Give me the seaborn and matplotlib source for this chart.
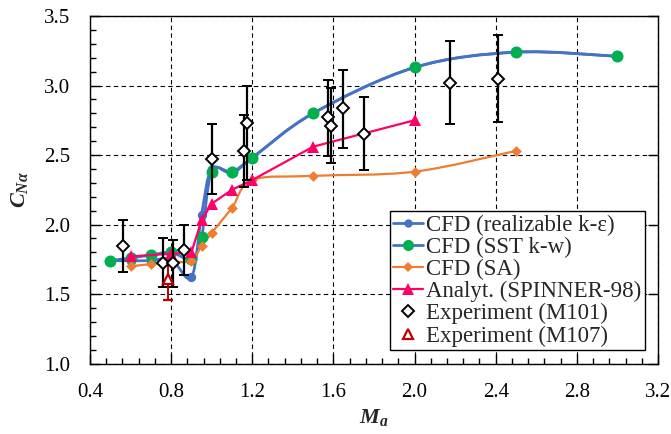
import numpy as np
import seaborn as sns
import matplotlib
matplotlib.use("Agg")
import matplotlib.pyplot as plt
from matplotlib.path import Path
from matplotlib.patches import PathPatch
from matplotlib.lines import Line2D
from matplotlib.ticker import MultipleLocator

# CFD (realizable k-e)
m_ke = [0.5, 0.6, 0.7, 0.8, 0.9, 0.95, 1.0, 1.1, 1.2, 1.5, 2.0, 2.5, 3.0]
cn_ke = [1.74, 1.74, 1.74, 1.75, 1.62, 2.07, 2.40, 2.37, 2.48, 2.80, 3.13, 3.24, 3.21]

# CFD (SST k-w)
m_sst = [0.5, 0.6, 0.7, 0.8, 0.9, 0.95, 1.0, 1.1, 1.2, 1.5, 2.0, 2.5, 3.0]
cn_sst = [1.74, 1.76, 1.78, 1.80, 1.75, 1.91, 2.38, 2.38, 2.48, 2.80, 3.13, 3.24, 3.21]

# CFD (SA)
m_sa = [0.6, 0.7, 0.8, 0.9, 0.95, 1.0, 1.1, 1.2, 1.5, 2.0, 2.5]
cn_sa = [1.70, 1.715, 1.73, 1.74, 1.845, 1.94, 2.12, 2.32, 2.35, 2.38, 2.53]

# Analyt. (SPINNER-98)
m_an = [0.6, 0.8, 0.9, 0.95, 1.0, 1.1, 1.2, 1.5, 2.0]
cn_an = [1.77, 1.79, 1.80, 2.03, 2.15, 2.25, 2.32, 2.56, 2.75]

# Experiment (M101)
m_101 = [0.565, 0.76, 0.81, 0.865, 1.0, 1.16, 1.175, 1.575, 1.59, 1.645, 1.75, 2.175, 2.41]
cn_101 = [1.845, 1.72, 1.72, 1.82, 2.47, 2.53, 2.73, 2.77, 2.71, 2.835, 2.65, 3.02, 3.045]
lo_101 = [1.66, 1.55, 1.55, 1.64, 2.22, 2.27, 2.32, 2.49, 2.44, 2.55, 2.39, 2.72, 2.74]
hi_101 = [2.03, 1.90, 1.89, 2.00, 2.72, 2.79, 3.00, 3.04, 2.98, 3.11, 2.92, 3.32, 3.36]

# Experiment (M107)
m_107 = [0.785]
cn_107 = [1.61]
lo_107 = [1.46]
hi_107 = [1.74]

blue = "#4472C4"
green = "#00B050"
orange = "#ED7D31"
pink = "#FF0066"
red = "#C00000"

sns.set_theme(style="ticks")
plt.rcParams["font.family"] = ["Liberation Serif", "DejaVu Serif"]
plt.rcParams["mathtext.fontset"] = "custom"
plt.rcParams["mathtext.it"] = "Liberation Serif:italic:bold"
plt.rcParams["mathtext.rm"] = "Liberation Serif:bold"


def smooth_path(x, y):
    # excel-like smoothed line (catmull-rom as cubic bezier)
    pts = np.column_stack([x, y]).astype(float)
    n = len(pts)
    verts = [pts[0]]
    codes = [Path.MOVETO]
    for i in range(n - 1):
        p0 = pts[i - 1] if i > 0 else pts[i]
        p1 = pts[i]
        p2 = pts[i + 1]
        p3 = pts[i + 2] if i + 2 < n else pts[i + 1]
        verts += [p1 + (p2 - p0) / 6, p2 - (p3 - p1) / 6, p2]
        codes += [Path.CURVE4] * 3
    return Path(verts, codes)


fig = plt.figure(figsize=(6.71, 4.34), dpi=100)
ax = fig.add_axes([0.1341, 0.1624, 0.8465, 0.8007])

# smoothed lines
ax.add_patch(PathPatch(smooth_path(m_ke, cn_ke), fill=False, ec=blue, lw=2.0, zorder=2))
ax.add_patch(PathPatch(smooth_path(m_sst, cn_sst), fill=False, ec=blue, lw=2.0, zorder=2))
ax.add_patch(PathPatch(smooth_path(m_sa, cn_sa), fill=False, ec=orange, lw=1.6, zorder=2))

# markers
sns.scatterplot(x=m_ke, y=cn_ke, color=blue, marker="o", s=45, linewidth=0, ax=ax, zorder=3)
sns.scatterplot(x=m_sst, y=cn_sst, color=green, marker="o", s=75, linewidth=0, ax=ax, zorder=4)
sns.scatterplot(x=m_sa, y=cn_sa, color=orange, marker="D", s=30, linewidth=0, ax=ax, zorder=4)
sns.lineplot(x=m_an, y=cn_an, color=pink, marker="^", markersize=8, markeredgewidth=0,
             linewidth=1.6, ax=ax, zorder=5)

# experiments with error bars
cn_101 = np.array(cn_101)
ax.errorbar(m_101, cn_101, yerr=[cn_101 - np.array(lo_101), np.array(hi_101) - cn_101],
            fmt="D", ms=6, mfc="white", mec="black", mew=1.4, ecolor="black",
            elinewidth=1.6, capsize=3.5, capthick=1.4, zorder=6)
cn_107 = np.array(cn_107)
ax.errorbar(m_107, cn_107, yerr=[cn_107 - np.array(lo_107), np.array(hi_107) - cn_107],
            fmt="^", ms=7.5, mfc="white", mec=red, mew=1.6, ecolor=red,
            elinewidth=1.4, capsize=3.5, capthick=1.4, zorder=6)

ax.set_xlim(0.4, 3.2)
ax.set_ylim(1.0, 3.5)
ax.xaxis.set_major_locator(MultipleLocator(0.4))
ax.xaxis.set_minor_locator(MultipleLocator(0.08))
ax.yaxis.set_major_locator(MultipleLocator(0.5))
ax.yaxis.set_minor_locator(MultipleLocator(0.1))
ax.set_xticklabels([f"{v:.1f}" for v in ax.get_xticks()])
ax.set_yticklabels([f"{v:.1f}" for v in ax.get_yticks()])

ax.grid(True, which="major", color="black", linestyle=(0, (4, 3)), linewidth=0.8)
ax.tick_params(which="major", direction="in", length=7, width=1, pad=14,
               labelsize=15, right=True, top=False, colors="black")
ax.tick_params(which="minor", direction="in", length=4, width=1,
               right=False, top=False, color="black")
for sp in ax.spines.values():
    sp.set_visible(True)
    sp.set_color("black")
    sp.set_linewidth(1.0)

ax.set_xlabel(r"$M_a$", fontsize=16)
ax.set_ylabel(r"$C_{N\alpha}$", fontsize=16)
ax.xaxis.set_label_coords(0.5, -0.125)
ax.yaxis.set_label_coords(-0.105, 0.5)

handles = [
    Line2D([], [], color=blue, lw=2, marker="o", ms=6, mew=0),
    Line2D([], [], color=blue, lw=2, marker="o", mfc=green, ms=8, mew=0),
    Line2D([], [], color=orange, lw=1.6, marker="D", ms=5, mew=0),
    Line2D([], [], color=pink, lw=1.6, marker="^", ms=8, mew=0),
    Line2D([], [], ls="none", marker="D", ms=6, mfc="white", mec="black", mew=1.4),
    Line2D([], [], ls="none", marker="^", ms=7, mfc="white", mec=red, mew=1.6),
]
labels = ["CFD (realizable k-ε)", "CFD (SST k-w)", "CFD (SA)",
          "Analyt. (SPINNER-98)", "Experiment (M101)", "Experiment (M107)"]
leg = ax.legend(handles, labels, loc="lower right", bbox_to_anchor=(0.977, 0.039),
                borderaxespad=0, fontsize=16.5, frameon=True, fancybox=False,
                framealpha=1, edgecolor="black", handlelength=1.3,
                handletextpad=0.15, labelspacing=0.04, borderpad=0.15)
leg.get_frame().set_linewidth(1.0)
leg.set_zorder(10)

fig.savefig("out.png", dpi=100)
